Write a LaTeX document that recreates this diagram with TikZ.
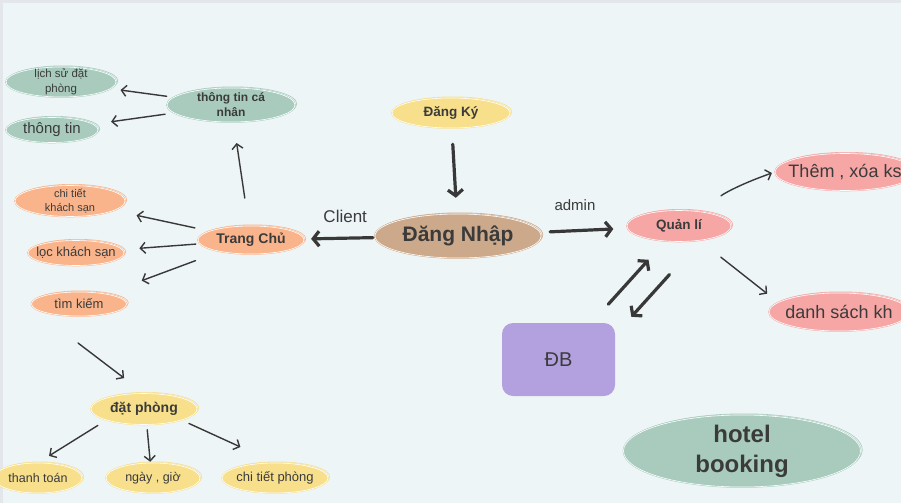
\documentclass[tikz,border=0pt]{standalone}
\usepackage{fontspec}
\setmainfont{Liberation Sans}
\usetikzlibrary{shapes.geometric}
\usetikzlibrary{arrows.meta}
\definecolor{paper}{HTML}{EDF5F7}
\definecolor{rim}{HTML}{E3E6EA}
\definecolor{ink}{HTML}{3B3B3B}
\definecolor{pen}{HTML}{383838}
\definecolor{sage}{HTML}{A8CBBD}
\definecolor{peach}{HTML}{F9B48B}
\definecolor{butter}{HTML}{F7DF8B}
\definecolor{tan}{HTML}{CCA98A}
\definecolor{rose}{HTML}{F6A6A5}
\definecolor{lilac}{HTML}{B3A0DF}
\newcommand{\fsz}[2]{\fontsize{#1}{#2}\selectfont}

\begin{document}
\begin{tikzpicture}[x=1pt, y=-1pt,
    bubble/.style = {ellipse, fill=#1, draw=#1, line width=.5pt,
                double=white, double distance=.6pt,
                inner sep=0pt, inner xsep=-10pt, inner ysep=-3pt,
                align=center, text=ink,
                preaction={draw=#1, line width=.6pt,
                  transform canvas={xshift=1.8pt, yshift=1.2pt}}},
    link/.style = {pen, line width=1.4pt, line cap=round,
                -{Straight Barb[length=5pt, width=11pt]}},
    heavy/.style = {pen, line width=3.2pt, line cap=round,
                -{Straight Barb[length=6pt, width=15pt]}}
                    ]
        \useasboundingbox (0,0) rectangle (901,503);
        \fill[paper] (0,0) rectangle (901,503);
        \fill[rim] (0,0) rectangle (901,3);
        \fill[rim] (0,0) rectangle (3,503);
        % profile side
        \node[bubble=sage, minimum width=110pt, minimum height=30pt, font=\fsz{11.5}{15}] (ls) at (61,82) {lịch sử đặt\\phòng};
        \node[bubble=sage, minimum width=92pt, minimum height=25pt, font=\fsz{15}{18}] (tt) at (52,130) {thông tin};
        \node[bubble=sage, minimum width=128pt, minimum height=34pt, font=\bfseries\fsz{12}{15}] (ttcn) at (231,105) {thông tin cá\\nhân};
        % home side
        \node[bubble=peach, minimum width=110pt, minimum height=31pt, font=\fsz{11}{13.3}] (ctks) at (70,201) {chi tiết\\khách sạn};
        \node[bubble=peach, minimum width=96pt, minimum height=25pt, font=\fsz{13}{15}] (loc) at (76,253) {lọc khách sạn};
        \node[bubble=peach, minimum width=95pt, minimum height=24pt, font=\fsz{13}{15}] (tk) at (79,304) {tìm kiếm};
        \node[bubble=peach, minimum width=106pt, minimum height=28pt, font=\bfseries\fsz{14}{16}] (tc) at (251,240) {Trang Chủ};
        % login
        \node[bubble=butter, minimum width=118pt, minimum height=30pt, font=\bfseries\fsz{13.5}{16}] (dk) at (451,113) {Đăng Ký};
        \node[bubble=tan, minimum width=166pt, minimum height=44pt, font=\bfseries\fsz{21}{24}] (dn) at (458,236) {Đăng Nhập};
        % admin side
        \node[bubble=rose, minimum width=104pt, minimum height=31pt, font=\bfseries\fsz{13.5}{16}] (ql) at (679,226) {Quản lí};
        \node[bubble=rose, minimum width=140pt, minimum height=37pt, font=\fsz{18}{21}] (them) at (845,172) {Thêm , xóa ks};
        \node[bubble=rose, minimum width=140pt, minimum height=38pt, font=\fsz{18}{21}] (dskh) at (839,312) {danh sách kh};
        \node[fill=lilac, rounded corners=11pt, minimum width=113pt, minimum height=73pt, text=ink, font=\fsz{20}{24}] (db) at (558.5,359.5) {ĐB};
        \node[bubble=sage, minimum width=237pt, minimum height=72pt, font=\bfseries\fsz{24}{30}] (hb) at (742,451) {hotel\\booking};
        % booking
        \node[bubble=butter, minimum width=106pt, minimum height=31pt, font=\bfseries\fsz{14}{16}] (dp) at (144,409) {đặt phòng};
        \foreach \x/\w/\s/\v/\t in {38/88pt/12.5/ttoan/thanh toán, 153/94pt/12.5/ngay/{ngày , giờ}, 275/106pt/13/ctp/chi tiết phòng}
            \node[bubble=butter, minimum width=\w, minimum height=30pt, font=\fsz{\s}{15}] (\v) at (\x,478) {\t};
        \coordinate (tkout) at (78,343);

        \draw [heavy, shorten <=16pt, shorten >=16pt] (dk) -- (dn);
        \draw [heavy, shorten <=2pt, shorten >=7pt] (dn) -- node[pos=.42, above=10.5pt, text=ink, font=\fsz{17}{20}] (client) {Client} (tc);
        \draw [heavy, shorten <=10pt, shorten >=14pt] (dn) -- node[pos=.4, above=15pt, text=ink, font=\fsz{15}{18}] (admin) {admin} (ql);
        \draw [heavy, shorten <=25pt, shorten >=25pt] (db) -- (ql);
        \draw [heavy, shorten <=22pt, shorten >=31pt, transform canvas={xshift=19pt, yshift=-17pt}] (ql) -- (db);
        \draw [link, shorten <=27pt, shorten >=3pt] (ql.36) to[bend left=8] (them.west);
        \draw [link, shorten <=27pt, shorten >=14pt] (ql.-35) -- (dskh.171);
        \draw [link, shorten <=28pt, shorten >=21pt] (tc) -- (ttcn);
        \draw [link, shorten <=7pt, shorten >=10pt] (ttcn) -- (ls);
        \draw [link, shorten <=9pt, shorten >=18pt] (ttcn) -- (tt);
        \foreach \v/\a/\b in {ctks/15pt/23pt, loc/4pt/17pt, tk/26pt/38pt}
            \draw [link, shorten <=\a, shorten >=\b] (tc) -- (\v);
        \draw [link, shorten >=25pt] (tkout) -- (dp.north);
        \draw [link, shorten <=10pt, shorten >=13pt] (dp.south west) -- (ttoan.north);
        \draw [link, shorten <=5pt, shorten >=1pt] (dp.-80) -- (ngay.100);
        \draw [link, shorten <=8pt, shorten >=38pt] (dp.south east) -- (ctp.north);
    \end{tikzpicture}
\end{document}
